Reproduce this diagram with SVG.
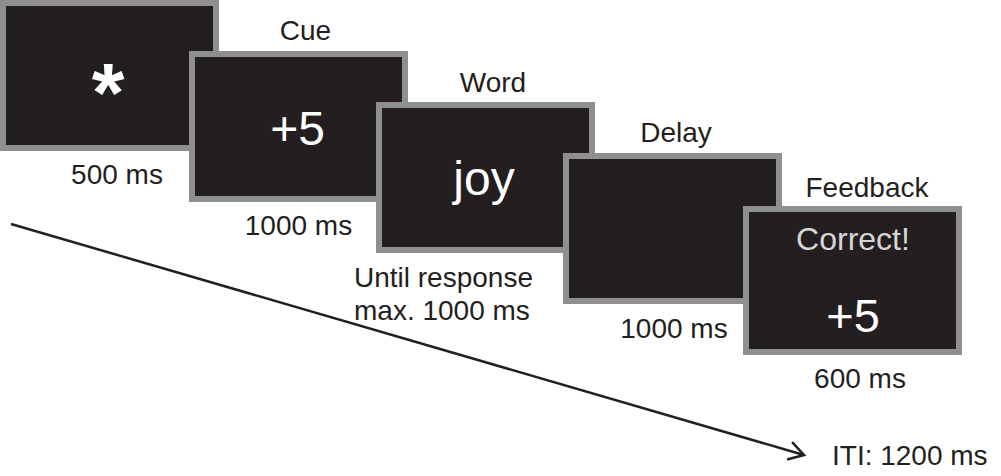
<svg xmlns="http://www.w3.org/2000/svg" width="1001" height="476" viewBox="0 0 1001 476">
<style>
.scr{fill:#231f20;stroke:#8d8f91;stroke-width:6}
.lbl{font-family:"Liberation Sans",Arial,sans-serif;font-size:28px;fill:#231f20}
.c{text-anchor:middle}
.big{font-family:"Liberation Sans",Arial,sans-serif;fill:#ffffff;text-anchor:middle}
.conn{stroke:#231f20;stroke-width:2.5;fill:none}
</style>
<defs>
<marker id="arr" markerUnits="userSpaceOnUse" markerWidth="22" markerHeight="22" refX="17" refY="11" orient="auto" viewBox="0 0 22 22">
<path d="M2,2 L17,11 L2,20" fill="none" stroke="#231f20" stroke-width="2.5"/>
</marker>
</defs>
<rect width="1001" height="476" fill="#ffffff"/>
<g id="connectors">
<line class="conn" x1="11" y1="224" x2="804" y2="455" marker-end="url(#arr)"/>
</g>
<g id="fixation">
<rect class="scr" x="3" y="3" width="213" height="145"/>
<text class="big" x="108" y="122" font-size="84" font-weight="bold">*</text>
<text class="lbl c" x="117" y="184">500 ms</text>
</g>
<g id="cue">
<rect class="scr" x="192" y="54" width="213" height="145"/>
<text class="lbl c" x="305.5" y="40">Cue</text>
<text class="big" x="297.5" y="144.5" font-size="48">+5</text>
<text class="lbl c" x="298.5" y="235">1000 ms</text>
</g>
<g id="word">
<rect class="scr" x="379" y="105" width="213" height="145"/>
<text class="lbl c" x="493" y="92">Word</text>
<text class="big" x="484" y="195" font-size="48">joy</text>
<text class="lbl" x="354" y="287">Until response</text>
<text class="lbl" x="354" y="320">max. 1000 ms</text>
</g>
<g id="delay">
<rect class="scr" x="566" y="156" width="213" height="145"/>
<text class="lbl c" x="676" y="142">Delay</text>
<text class="lbl c" x="674" y="338">1000 ms</text>
</g>
<g id="feedback">
<rect class="scr" x="746" y="209" width="213" height="143"/>
<text class="lbl c" x="867" y="197">Feedback</text>
<text class="big" x="853" y="250" font-size="32" style="fill:#d6d6d6">Correct!</text>
<text class="big" x="853" y="332" font-size="47">+5</text>
<text class="lbl c" x="860" y="388">600 ms</text>
</g>
<g id="iti">
<text class="lbl" x="832" y="465">ITI: 1200 ms</text>
</g>
</svg>
